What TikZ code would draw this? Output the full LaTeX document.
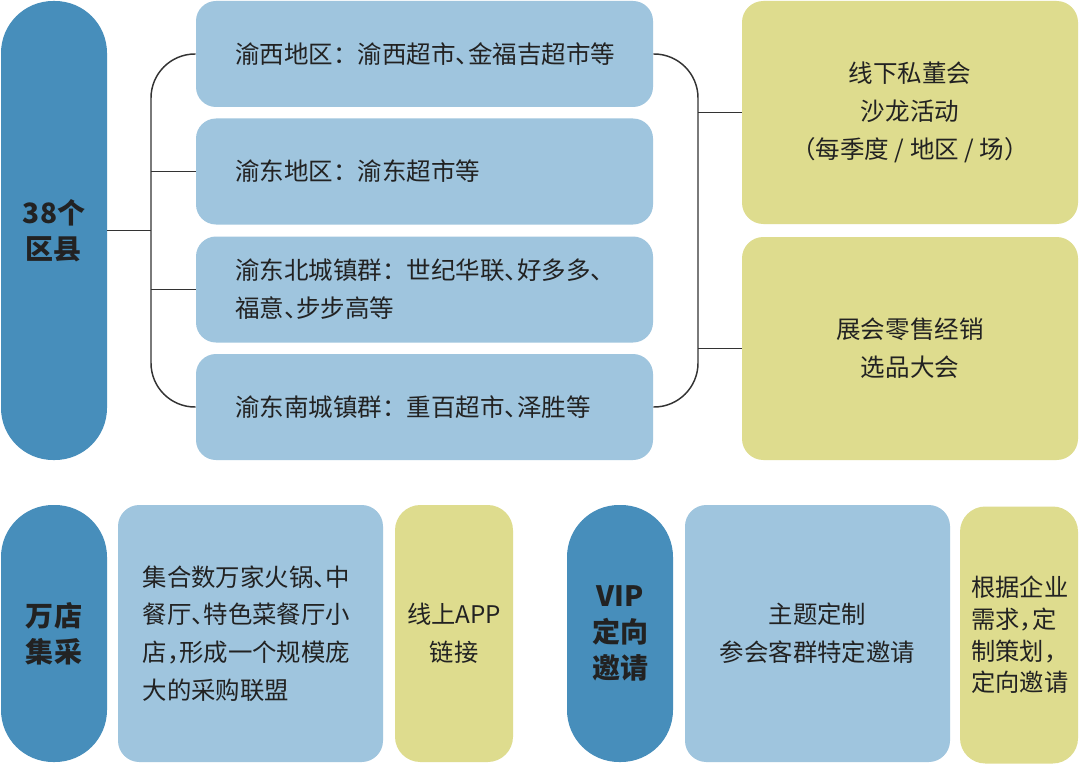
\documentclass[tikz,border=0pt]{standalone}
\usepackage{fontspec}
\setmainfont{Noto Sans CJK SC}
\definecolor{dblue}{HTML}{478EBB}
\definecolor{lblue}{HTML}{9FC5DE}
\definecolor{ylw}{HTML}{DEDC8E}
\definecolor{txt}{HTML}{222222}
\definecolor{lnc}{HTML}{333333}
\newcommand\hdun{\makebox[0.5em][l]{、}}
\newcommand\hcom{\makebox[0.5em][l]{，}}
\begin{document}
\begin{tikzpicture}[x=0.75pt,y=-0.75pt,
  pill/.style={fill=dblue, rounded corners=39pt, inner sep=0pt, minimum width=79.5pt,
    text=txt, align=center, font=\bfseries\fontsize{21}{27}\selectfont},
  topblue/.style={fill=lblue, rounded corners=15pt, inner ysep=0pt, inner xsep=29.25pt,
    minimum width=342.75pt, minimum height=79.5pt, text width=284.25pt, align=left,
    text=txt, font=\fontsize{18.4}{28.5}\selectfont},
  topylw/.style={fill=ylw, rounded corners=16pt, inner sep=0pt,
    minimum width=252pt, minimum height=167.25pt, align=center,
    text=txt, font=\fontsize{18.4}{28.5}\selectfont},
  botblue/.style={fill=lblue, rounded corners=16pt, inner sep=0pt,
    minimum width=198.75pt, minimum height=192.75pt,
    text=txt, font=\fontsize{18.3}{28.3}\selectfont},
  botylw/.style={fill=ylw, rounded corners=19pt, inner sep=0pt,
    minimum width=88.5pt, minimum height=192.75pt,
    text=txt, font=\fontsize{18.2}{28.5}\selectfont},
  conn/.style={draw=lnc, line width=1.1pt}]
\useasboundingbox[fill=white] (0,0) rectangle (1080,763);

% top row
\node[pill, minimum height=344.25pt] (qx) at (54,230.5) {38个\\区县};
\node[topblue] (b1) at (424.5,54) {渝西地区：渝西超市\hdun 金福吉超市等};
\node[topblue] (b2) at (424.5,171.5) {渝东地区：渝东超市等};
\node[topblue] (b3) at (424.5,289.5) {渝东北城镇群：世纪华联\hdun 好多多\hdun\\福意\hdun 步步高等};
\node[topblue] (b4) at (424.5,407) {渝东南城镇群：重百超市\hdun 泽胜等};
\node[topylw] (y1) at (910,112.5) {线下私董会\\沙龙活动\\（每季度 / 地区 / 场）};
\node[topylw] (y2) at (910,348.5) {展会零售经销\\选品大会};

% connectors
\coordinate (jl) at (151,230.5);
\coordinate (jr) at (698,230.5);
\draw[conn, rounded corners=33pt] (b1.west) -| (jl) |- (b4.west);
\draw[conn] (qx.east) -- (jl);
\draw[conn] (b2.west) -- (jl |- b2.west);
\draw[conn] (b3.west) -- (jl |- b3.west);
\draw[conn, rounded corners=33pt] (b1.east) -| (jr) |- (b4.east);
\draw[conn] (y1.west) -- (jr |- y1.west);
\draw[conn] (y2.west) -- (jr |- y2.west);

% bottom row
\node[pill, minimum height=192.75pt] (wd) at (54,633.5) {万店\\集采};
\node[botblue, inner xsep=18.5pt, text width=161.75pt, align=left] (bb1) at (250.5,633.5)
  {集合数万家火锅\hdun 中\\餐厅\hdun 特色菜餐厅小\\店\hcom 形成一个规模庞\\大的采购联盟};
\node[botylw, align=center] (yb1) at (454,633.5) {线上APP\\链接};
\node[pill, minimum height=192.75pt] (vip) at (620,633.5) {VIP\\定向\\邀请};
\node[botblue, align=center] (bb2) at (817.5,633.5) {主题定制\\参会客群特定邀请};
\node[botylw, inner xsep=8.5pt, text width=71.5pt, align=left,
  font=\fontsize{18.2}{23.8}\selectfont] (yb2) at (1019,635)
  {根据企业\\需求\hcom 定\\制策划\hcom\\定向邀请};
\end{tikzpicture}
\end{document}
